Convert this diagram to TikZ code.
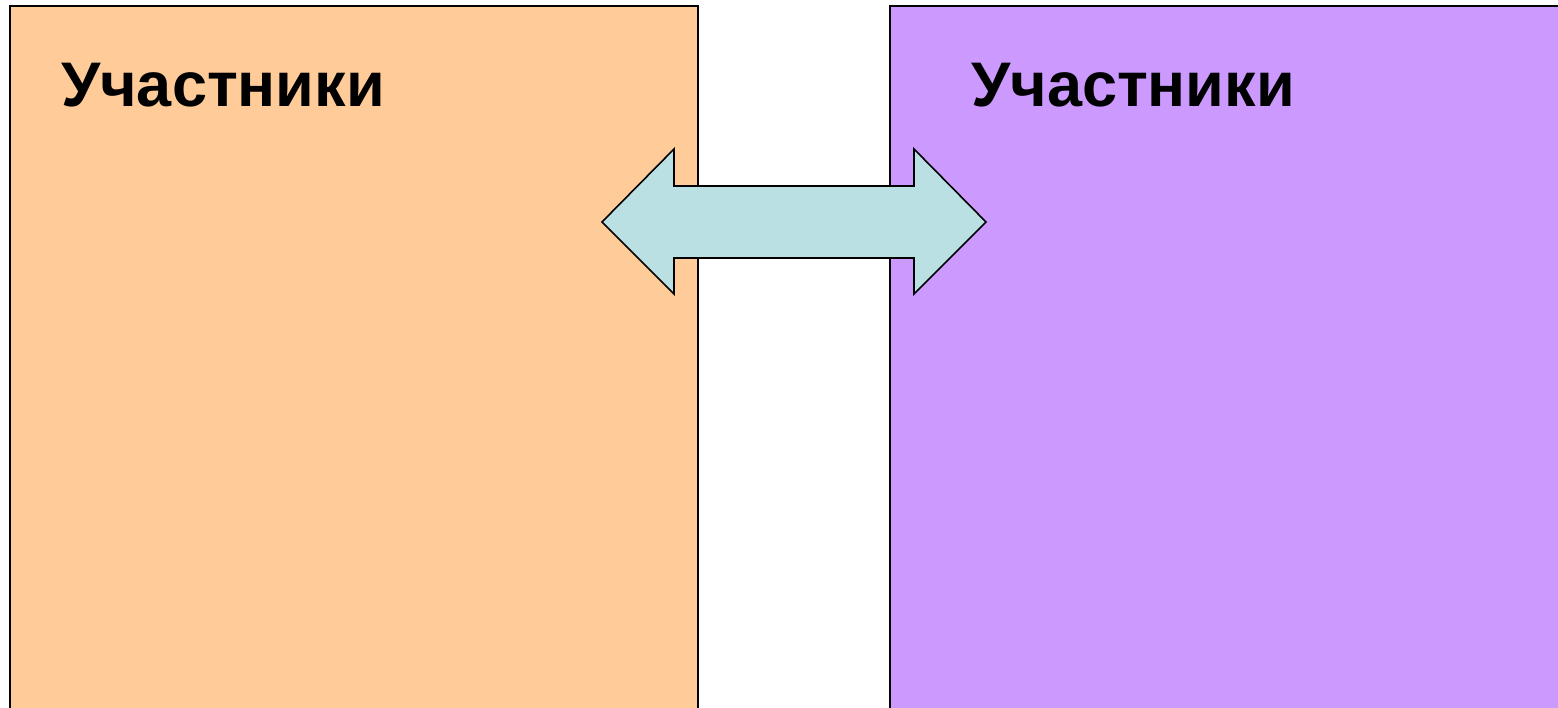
\documentclass[tikz,border=0pt]{standalone}
\usepackage{fontspec}
\setmainfont{Liberation Sans}
\definecolor{peach}{HTML}{FFCC99}
\definecolor{lilac}{HTML}{CC99FF}
\definecolor{aqua}{HTML}{BBE0E3}
\begin{document}
\begin{tikzpicture}[x=1pt,y=-1pt,
  panel/.style={draw=black,line width=1.6pt},
  title/.style={anchor=base west,inner sep=0pt,font=\fontsize{63}{72}\selectfont\bfseries},
  dblarrow/.style={draw=black,fill=aqua,line width=1.6pt,line join=miter}]
\useasboundingbox (0,0) rectangle (1558,708);
\clip (0,0) rectangle (1558,708);
\path[panel,fill=peach] (10,6) rectangle (698,740);
\path[panel,fill=lilac] (890,6) rectangle (1600,740);
\node[title] (t1) at (61,107) {Участники};
\node[title] (t2) at (971,107) {Участники};
\path[dblarrow] (602,222) -- (674,149) -- (674,186) -- (914,186) -- (914,149)
  -- (986,222) -- (914,294) -- (914,258) -- (674,258) -- (674,294) -- cycle;
\end{tikzpicture}
\end{document}
